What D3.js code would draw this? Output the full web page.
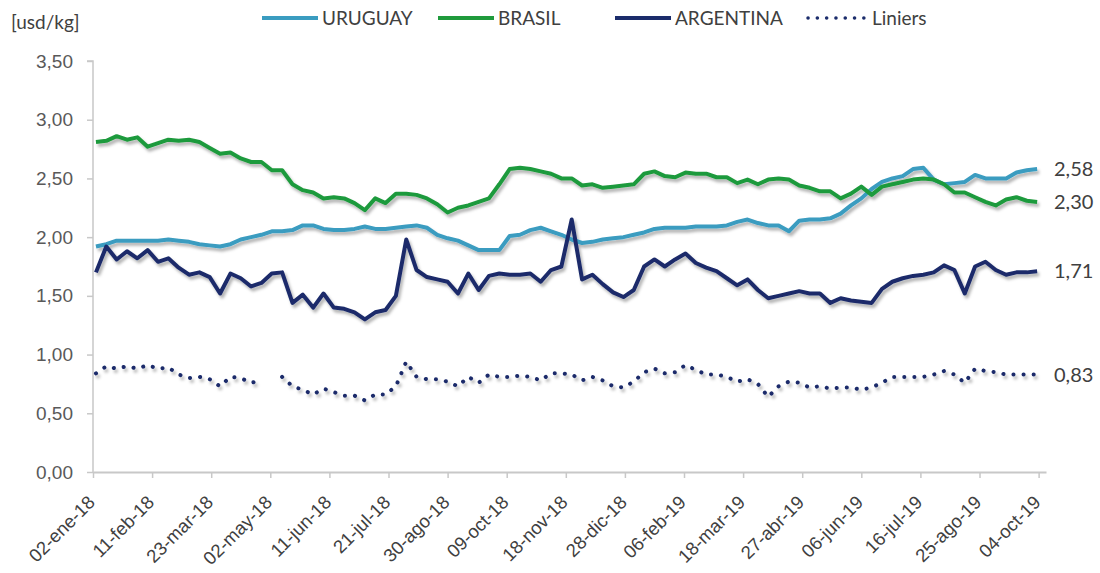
<!DOCTYPE html>
<html>
<head>
<meta charset="utf-8">
<script src="https://cdn.jsdelivr.net/npm/d3@7"></script>
<style>
  body { margin: 0; background: #fff; }
  svg { font-family: Lato, "Open Sans", sans-serif; }
</style>
</head>
<body>
<div id="main"></div>
<script>
// weekly series, first week starting 04-ene-18
const firstDate = new Date(2018, 0, 4);
const nWeeks = 92;

const uruguay = [1.92,1.94,1.97,1.97,1.97,1.97,1.97,1.98,1.97,1.96,
  1.94,1.93,1.92,1.94,1.98,2.00,2.02,2.05,2.05,2.06,
  2.10,2.10,2.07,2.06,2.06,2.07,2.09,2.07,2.07,2.08,
  2.09,2.10,2.08,2.02,1.99,1.97,1.93,1.89,1.89,1.89,
  2.01,2.02,2.06,2.08,2.05,2.02,1.98,1.95,1.96,1.98,
  1.99,2.00,2.02,2.04,2.07,2.08,2.08,2.08,2.09,2.09,
  2.09,2.10,2.13,2.15,2.12,2.10,2.10,2.05,2.14,2.15,
  2.15,2.16,2.20,2.27,2.33,2.41,2.47,2.50,2.52,2.58,
  2.59,2.49,2.45,2.46,2.47,2.53,2.50,2.50,2.50,2.55,
  2.57,2.58];

const brasil = [2.81,2.82,2.86,2.83,2.85,2.77,2.80,2.83,2.82,2.83,
  2.81,2.76,2.71,2.72,2.67,2.64,2.64,2.57,2.57,2.45,
  2.40,2.38,2.33,2.34,2.33,2.29,2.23,2.33,2.29,2.37,
  2.37,2.36,2.33,2.28,2.21,2.25,2.27,2.30,2.33,2.45,
  2.58,2.59,2.58,2.56,2.54,2.50,2.50,2.44,2.45,2.42,
  2.43,2.44,2.45,2.54,2.56,2.52,2.51,2.55,2.54,2.54,
  2.51,2.51,2.46,2.49,2.45,2.49,2.50,2.49,2.44,2.42,
  2.39,2.39,2.33,2.37,2.43,2.36,2.43,2.45,2.47,2.49,
  2.50,2.49,2.45,2.38,2.38,2.34,2.30,2.27,2.32,2.34,
  2.31,2.30];

const argentina = [1.70,1.92,1.81,1.88,1.82,1.89,1.79,1.82,1.74,1.68,
  1.70,1.66,1.52,1.69,1.65,1.58,1.61,1.69,1.70,1.44,
  1.51,1.40,1.52,1.40,1.39,1.36,1.30,1.36,1.38,1.50,
  1.98,1.72,1.66,1.64,1.62,1.52,1.69,1.55,1.67,1.69,
  1.68,1.68,1.69,1.62,1.72,1.75,2.15,1.64,1.68,1.60,
  1.53,1.49,1.55,1.75,1.81,1.75,1.81,1.86,1.78,1.74,
  1.71,1.65,1.59,1.64,1.55,1.48,1.50,1.52,1.54,1.52,
  1.52,1.44,1.48,1.46,1.45,1.44,1.56,1.62,1.65,1.67,
  1.68,1.70,1.76,1.72,1.52,1.75,1.79,1.72,1.68,1.70,
  1.70,1.71];

const liniers = [0.84,0.90,0.88,0.90,0.88,0.91,0.88,0.89,0.83,0.80,
  0.81,0.79,0.73,0.81,0.80,0.76,0.78,null,0.81,0.73,
  0.70,0.66,0.71,0.68,0.65,0.65,0.61,0.66,0.66,0.73,
  0.94,0.81,0.79,0.79,0.77,0.73,0.81,0.76,0.83,0.81,
  0.81,0.82,0.81,0.78,0.84,0.84,0.83,0.78,0.81,0.78,
  0.73,0.72,0.77,0.85,0.88,0.84,0.85,0.91,0.87,0.83,
  0.83,0.81,0.77,0.79,0.75,0.64,0.73,0.77,0.76,0.72,
  0.73,0.71,0.72,0.72,0.70,0.72,0.76,0.81,0.81,0.81,
  0.81,0.83,0.86,0.83,0.76,0.88,0.86,0.85,0.83,0.83,
  0.83,0.83];

const seriesNames = ["URUGUAY", "BRASIL", "ARGENTINA", "Liniers"];
const seriesColors = ["#3a9cc0", "#1f9a3c", "#1b2c6b", "#1b2c6b"];
const yTicks = [0, 0.5, 1, 1.5, 2, 2.5, 3, 3.5];
// x ticks every 40 days from 02-ene-18 to 04-oct-19
const xTickStart = new Date(2018, 0, 2);
const xTickCount = 17;

const ctx = {
    w: 1100,
    h: 573,
    left: 93,
    right: 1046,
    top: 61,
    bottom: 472,
};

const es = d3.timeFormatLocale({
    dateTime: "%x, %X", date: "%d/%m/%Y", time: "%H:%M:%S",
    periods: ["AM", "PM"],
    days: ["domingo","lunes","martes","miércoles","jueves","viernes","sábado"],
    shortDays: ["dom","lun","mar","mié","jue","vie","sáb"],
    months: ["enero","febrero","marzo","abril","mayo","junio","julio","agosto","septiembre","octubre","noviembre","diciembre"],
    shortMonths: ["ene","feb","mar","abr","may","jun","jul","ago","sep","oct","nov","dic"]
});
const fmtDate = es.format("%d-%b-%y");
const fmtNum = d => d3.format(".2f")(d).replace(".", ",");

const dates = d3.range(nWeeks).map(i => d3.timeDay.offset(firstDate, 7 * i));
const xTicks = d3.range(xTickCount).map(i => d3.timeDay.offset(xTickStart, 40 * i));

const x = d3.scaleTime()
    .domain([xTickStart, d3.timeDay.offset(xTickStart, 645)])
    .range([ctx.left, ctx.right]);
const y = d3.scaleLinear().domain([0, 3.5]).range([ctx.bottom, ctx.top]);

const svg = d3.select("#main").append("svg")
    .attr("width", ctx.w).attr("height", ctx.h);

const defs = svg.append("defs");
defs.append("filter").attr("id", "shadow")
    .attr("x", "-5%").attr("y", "-20%").attr("width", "110%").attr("height", "140%")
    .append("feDropShadow")
    .attr("dx", 2).attr("dy", 3).attr("stdDeviation", 1.8)
    .attr("flood-color", "#000").attr("flood-opacity", 0.3);

// axes
const yAxis = svg.append("g")
    .attr("transform", `translate(${ctx.left},0)`)
    .call(d3.axisLeft(y).tickValues(yTicks).tickFormat(fmtNum).tickSize(6).tickPadding(14));
yAxis.select(".domain").attr("stroke", "#c8c8c8").attr("stroke-width", 1.5)
    .attr("d", `M-6,${ctx.top}H0V${ctx.bottom}`);
yAxis.selectAll(".tick line").attr("stroke", "#c8c8c8").attr("stroke-width", 1.5);
yAxis.selectAll(".tick text").attr("fill", "#595959").style("font-size", "19px");

const xAxis = svg.append("g")
    .attr("transform", `translate(0,${ctx.bottom})`)
    .call(d3.axisBottom(x).tickValues(xTicks).tickFormat(fmtDate).tickSize(6).tickSizeOuter(0));
xAxis.select(".domain").attr("stroke", "#c8c8c8").attr("stroke-width", 2);
xAxis.selectAll(".tick line").attr("stroke", "#c8c8c8").attr("stroke-width", 1.5);
xAxis.selectAll(".tick text")
    .attr("fill", "#404040").style("font-size", "18.5px")
    .attr("text-anchor", "end")
    .attr("x", 0).attr("y", 0)
    .attr("dy", "0.35em")
    .attr("transform", "translate(-2,27) rotate(-45)");

svg.append("text")
    .attr("x", 11).attr("y", 29)
    .attr("fill", "#404040").style("font-size", "19px")
    .text("[usd/kg]");

// lines
const allSeries = [uruguay, brasil, argentina, liniers];
const line = d3.line()
    .defined(d => d != null)
    .x((d, i) => x(dates[i]))
    .y(d => y(d));

const lineG = svg.append("g").attr("filter", "url(#shadow)");
allSeries.forEach(function(vals, k){
    const p = lineG.append("path")
        .datum(vals)
        .attr("fill", "none")
        .attr("stroke", seriesColors[k])
        .attr("stroke-linejoin", "round")
        .attr("d", line);
    if (k === 3){
        p.attr("stroke-width", 4).attr("stroke-linecap", "round")
         .attr("stroke-dasharray", "0.1 10");
    } else {
        p.attr("stroke-width", 4);
    }
});

// end labels
allSeries.forEach(function(vals){
    const last = vals[vals.length - 1];
    svg.append("text")
        .attr("x", 1054).attr("y", y(last))
        .attr("dy", "0.35em")
        .attr("fill", "#404040").style("font-size", "20px")
        .text(fmtNum(last));
});

// legend
const legendX = [262, 438, 615, 808];
const legend = svg.append("g");
seriesNames.forEach(function(name, k){
    const g = legend.append("g").attr("transform", `translate(${legendX[k]},18)`);
    const l = g.append("line").attr("x1", 0).attr("x2", 56).attr("y1", 0).attr("y2", 0)
        .attr("stroke", seriesColors[k]);
    if (k === 3){
        l.attr("stroke-width", 3.5).attr("stroke-linecap", "round").attr("stroke-dasharray", "0.1 9.2");
    } else {
        l.attr("stroke-width", 4);
    }
    g.append("text").attr("x", k === 3 ? 64 : 60).attr("y", 0).attr("dy", "0.35em")
        .attr("fill", "#404040").style("font-size", "19px")
        .text(name);
});
</script>
</body>
</html>
